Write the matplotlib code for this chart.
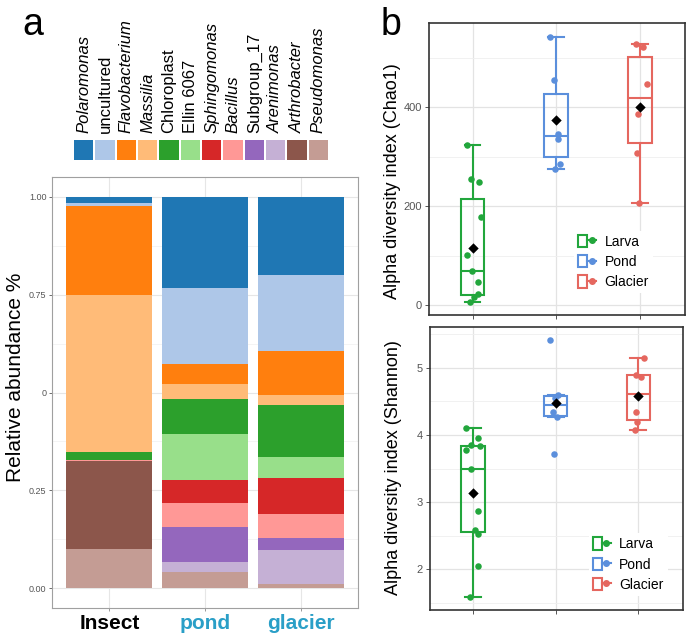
import matplotlib
matplotlib.use("Agg")
import matplotlib.pyplot as plt
from matplotlib.patches import Patch
from matplotlib.lines import Line2D
from matplotlib.legend_handler import HandlerTuple
import numpy as np

plt.rcParams['font.family'] = ['Liberation Sans', 'DejaVu Sans']

# ---- panel a data ----
samples = ["Insect", "pond", "glacier"]
genera = ["Polaromonas", "uncultured", "Flavobacterium", "Massilia", "Chloroplast", "Ellin 6067",
          "Sphingomonas", "Bacillus", "Subgroup_17", "Arenimonas", "Arthrobacter", "Pseudomonas"]
italic = [True, False, True, True, False, False, True, True, False, True, True, True]
genus_colors = ["#1f77b4", "#aec7e8", "#ff7f0e", "#ffbb78", "#2ca02c", "#98df8a",
                "#d62728", "#ff9896", "#9467bd", "#c5b0d5", "#8c564b", "#c49c94"]
abundance = {
    "Polaromonas":    [0.016, 0.233, 0.201],
    "uncultured":     [0.009, 0.193, 0.192],
    "Flavobacterium": [0.225, 0.052, 0.113],
    "Massilia":       [0.401, 0.038, 0.025],
    "Chloroplast":    [0.020, 0.090, 0.133],
    "Ellin 6067":     [0.000, 0.118, 0.055],
    "Sphingomonas":   [0.000, 0.057, 0.091],
    "Bacillus":       [0.005, 0.062, 0.061],
    "Subgroup_17":    [0.000, 0.090, 0.030],
    "Arenimonas":     [0.000, 0.025, 0.087],
    "Arthrobacter":   [0.224, 0.000, 0.000],
    "Pseudomonas":    [0.100, 0.042, 0.012],
}
ytick_vals = [0.0, 0.25, 0.5, 0.75, 1.0]
ytick_labels = ["0.00", "0.25", "0", "0.75", "1.00"]
sample_label_colors = ["black", "#2a9fc7", "#2a9fc7"]

# ---- panel b data ----
groups = ["Larva", "Pond", "Glacier"]
group_colors = ["#22a63c", "#5b8fdc", "#e5675f"]

chao_points = [[324, 254, 249, 179, 101, 69, 46, 22, 17, 6],
               [542, 455, 346, 336, 286, 274],
               [527, 521, 447, 387, 308, 207]]
chao_jitter = [[-0.07, -0.02, 0.08, 0.10, -0.07, -0.01, 0.07, 0.06, 0.02, -0.03],
               [-0.07, -0.02, 0.02, 0.02, 0.04, -0.01],
               [-0.05, 0.04, 0.09, -0.02, -0.03, -0.01]]
chao_med = [69, 341, 418]
chao_q1 = [20, 299, 327]
chao_q3 = [214, 427, 501]
chao_lo = [6, 274, 207]
chao_hi = [324, 542, 527]
chao_mean = [116, 373, 400]

sha_points = [[4.10, 3.955, 3.78, 3.845, 3.84, 3.49, 2.86, 2.58, 2.52, 2.04, 1.58],
              [5.41, 4.59, 4.55, 4.34, 4.27, 3.72],
              [5.15, 4.89, 4.87, 4.34, 4.19, 4.07]]
sha_jitter = [[-0.09, 0.06, -0.09, -0.03, 0.09, -0.02, 0.06, 0.02, 0.06, 0.06, -0.04],
              [-0.07, 0.03, -0.01, -0.03, 0.01, -0.02],
              [0.07, -0.03, 0.03, -0.03, -0.02, -0.04]]
sha_med = [3.49, 4.44, 4.615]
sha_q1 = [2.555, 4.277, 4.228]
sha_q3 = [3.84, 4.574, 4.887]
sha_lo = [1.58, 4.265, 4.07]
sha_hi = [4.103, 4.59, 5.145]
sha_mean = [3.135, 4.48, 4.58]

W, H = 689, 639
fig = plt.figure(figsize=(W / 100, H / 100), dpi=100)


def px_axes(x0, y0, x1, y1):
    return fig.add_axes([x0 / W, 1 - y1 / H, (x1 - x0) / W, (y1 - y0) / H])


# ================= panel a =================
ax = px_axes(52, 177, 358, 608)
xpos = np.arange(len(samples))
bottom = np.zeros(len(samples))
for name, col in reversed(list(zip(genera, genus_colors))):
    vals = np.array(abundance[name])
    ax.bar(xpos, vals, bottom=bottom, width=0.9, color=col, linewidth=0, zorder=2)
    bottom += vals
ax.set_xlim(-0.6, 2.6)
ax.set_ylim(-0.05, 1.05)
ax.set_yticks(ytick_vals)
ax.set_yticklabels(ytick_labels)
ax.set_yticks([0.125, 0.375, 0.625, 0.875], minor=True)
ax.grid(True, which='major', color='#e6e6e6', lw=0.8, zorder=0)
ax.grid(True, which='minor', axis='y', color='#f0f0f0', lw=0.5, zorder=0)
ax.set_axisbelow(True)
ax.set_xticks(xpos)
ax.set_xticklabels(samples, fontsize=15, fontweight='bold')
for lbl, c in zip(ax.get_xticklabels(), sample_label_colors):
    lbl.set_color(c)
ax.tick_params(axis='y', labelsize=6.5, colors='#555555', length=2.5, width=0.6, pad=1.5)
ax.tick_params(axis='x', length=2.5, width=0.6, color='#888888', pad=2)
ax.tick_params(which='minor', length=0)
for sp in ax.spines.values():
    sp.set_color('#a0a0a0')
    sp.set_linewidth(0.8)
ax.set_ylabel("Relative abundance %", fontsize=15)
ax.yaxis.set_label_coords(-0.088, 0.535)

# colour key strip on top
axk = px_axes(73, 140, 329, 160)
axk.bar(np.arange(len(genera)), 1, width=0.92, color=genus_colors, linewidth=0)
axk.set_xlim(-0.5, len(genera) - 0.5)
axk.set_ylim(0, 1)
axk.axis('off')
for i, (name, it) in enumerate(zip(genera, italic)):
    axk.text(i, 1.35, name, rotation=90, ha='center', va='bottom', fontsize=12,
             style='italic' if it else 'normal', clip_on=False)

fig.text(22 / W, 1 - 35 / H, "a", fontsize=27, ha='left', va='baseline')
fig.text(381 / W, 1 - 35 / H, "b", fontsize=27, ha='left', va='baseline')


# ================= panel b =================
def box_panel(ax, points, jitter, med, q1, q3, lo, hi, mean):
    pos = np.arange(1, len(groups) + 1)
    for i, c in enumerate(group_colors):
        stats = [dict(med=med[i], q1=q1[i], q3=q3[i], whislo=lo[i], whishi=hi[i], fliers=[])]
        ax.bxp(stats, positions=[pos[i]], widths=0.28, capwidths=0.19, showfliers=False,
               patch_artist=True,
               boxprops=dict(facecolor='none', edgecolor=c, linewidth=1.5),
               medianprops=dict(color=c, linewidth=1.5),
               whiskerprops=dict(color=c, linewidth=1.5),
               capprops=dict(color=c, linewidth=1.5), zorder=3)
        ax.scatter(pos[i] + np.array(jitter[i]), points[i], s=22, color=c, zorder=4, linewidths=0)
        ax.scatter([pos[i]], [mean[i]], marker='D', s=28, color='black', zorder=5, linewidths=0)
    ax.set_xlim(0.48, 3.54)
    ax.set_xticks(pos)
    ax.set_xticklabels([])
    ax.grid(True, which='major', color='#e3e3e3', lw=0.9, zorder=0)
    ax.grid(True, which='minor', axis='y', color='#efefef', lw=0.6, zorder=0)
    ax.set_axisbelow(True)
    ax.tick_params(axis='both', labelsize=8, colors='#555555', length=3, width=0.7, pad=2)
    ax.tick_params(which='minor', length=0)
    for sp in ax.spines.values():
        sp.set_color('#333333')
        sp.set_linewidth(1.2)
    handles = [(Patch(facecolor='white', edgecolor=c, linewidth=1.5),
                Line2D([], [], color=c, marker='o', markersize=4, lw=1.5)) for c in group_colors]
    return handles


ax1 = px_axes(429, 23, 685, 315)
h = box_panel(ax1, chao_points, chao_jitter, chao_med, chao_q1, chao_q3, chao_lo, chao_hi, chao_mean)
ax1.set_ylim(-20, 570)
ax1.set_yticks([0, 200, 400])
ax1.set_yticks([100, 300, 500], minor=True)
ax1.set_ylabel("Alpha diversity index (Chao1)", fontsize=13)
ax1.yaxis.set_label_coords(-0.11, 0.46)
ax1.legend(h, groups, handler_map={tuple: HandlerTuple(ndivide=None, pad=0)},
           loc='lower left', bbox_to_anchor=(0.54, 0.05), frameon=True, facecolor='white',
           edgecolor='none', framealpha=1, fontsize=10, handlelength=1.3, handleheight=1.0,
           labelspacing=0.45, handletextpad=0.6, borderpad=0.3)

ax2 = px_axes(430, 327, 683, 610)
h = box_panel(ax2, sha_points, sha_jitter, sha_med, sha_q1, sha_q3, sha_lo, sha_hi, sha_mean)
ax2.set_ylim(1.39, 5.61)
ax2.set_yticks([2, 3, 4, 5])
ax2.set_yticks([1.5, 2.5, 3.5, 4.5, 5.5], minor=True)
ax2.set_ylabel("Alpha diversity index (Shannon)", fontsize=13)
ax2.yaxis.set_label_coords(-0.11, 0.505)
ax2.legend(h, groups, handler_map={tuple: HandlerTuple(ndivide=None, pad=0)},
           loc='lower left', bbox_to_anchor=(0.6, 0.025), frameon=True, facecolor='white',
           edgecolor='none', framealpha=1, fontsize=10, handlelength=1.3, handleheight=1.0,
           labelspacing=0.45, handletextpad=0.6, borderpad=0.3)

fig.savefig("out.png", dpi=100)
